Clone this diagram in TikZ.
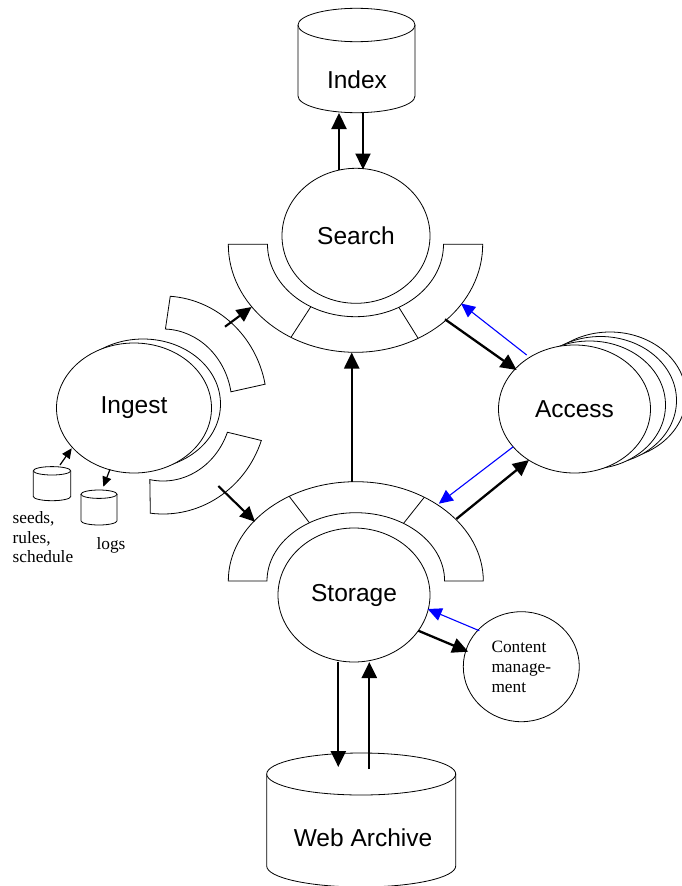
\documentclass[tikz,border=0pt]{standalone}
\usepackage{fontspec}
\setmainfont{Liberation Sans}
\newfontfamily\notefont{Liberation Serif}
\usetikzlibrary{shapes.geometric,arrows.meta}
\begin{document}
\begin{tikzpicture}[x=1pt,y=-1pt,
  shapeline/.style={draw=black,line width=0.8pt,fill=white},
  bignode/.style={shapeline,ellipse,inner sep=0pt,minimum width=152pt,minimum height=134pt,font=\fontsize{24.5}{29}\selectfont},
  lbl/.style={inner sep=0pt,font=\fontsize{24.5}{29}\selectfont},
  note/.style={inner sep=0pt,align=left,font=\notefont\fontsize{17.3}{19.5}\selectfont},
  flowarrow/.style={draw=black,line width=2.3pt,-{Triangle[length=16pt,width=15pt]}},
  backarrow/.style={draw=blue,line width=1.1pt,-{Triangle[length=14pt,width=13pt]}},
  smallarrow/.style={draw=black,line width=1.2pt,-{Triangle[length=10pt,width=9pt]}}]
\clip (0,0) rectangle (682,886);

% ---------- Search band (lower half ring) ----------
\draw[shapeline] (228.3,244.3) arc[start angle=180,end angle=0,x radius=127.2,y radius=108]
  -- (443.5,244.3) arc[start angle=0,end angle=180,x radius=88,y radius=72.4] -- cycle;
\draw[line width=0.8pt] ([shift={(355.5,244.3)}]120.5:88 and 72.4) -- ([shift={(355.5,244.3)}]120.5:127.2 and 108);
\draw[line width=0.8pt] ([shift={(355.5,244.3)}]60.5:88 and 72.4) -- ([shift={(355.5,244.3)}]60.5:127.2 and 108);

% ---------- Storage band (upper half ring) ----------
\draw[shapeline] (228.3,581) arc[start angle=180,end angle=360,x radius=127.5,y radius=99.3]
  -- (444.6,581) arc[start angle=0,end angle=-180,x radius=88.8,y radius=68.3] -- cycle;
\draw[line width=0.8pt] ([shift={(355.8,581)}]238.5:88.8 and 68.3) -- ([shift={(355.8,581)}]238.5:127.5 and 99.3);
\draw[line width=0.8pt] ([shift={(355.8,581)}]302.5:88.8 and 68.3) -- ([shift={(355.8,581)}]302.5:127.5 and 99.3);

% ---------- Ingest bands ----------
\draw[shapeline] ([shift={(163,405)}]-86:104 and 109) arc[start angle=-86,end angle=-11,x radius=104,y radius=109]
  -- ([shift={(163,405)}]-10:69 and 76) arc[start angle=-10,end angle=-88,x radius=69,y radius=76] -- cycle;
\draw[shapeline] ([shift={(163,405)}]19:104 and 109) arc[start angle=19,end angle=97,x radius=104,y radius=109]
  -- ([shift={(163,405)}]101:69 and 76) arc[start angle=101,end angle=21,x radius=69,y radius=76] -- cycle;

% ---------- main nodes ----------
\node[bignode,minimum width=155pt,minimum height=130pt] (ingestback) at (143,404) {};
\node[bignode,minimum width=155pt,minimum height=130pt] (ingest) at (134,408) {Ingest};

\node[bignode,minimum height=128pt] (access3) at (610,396) {};
\node[bignode,minimum height=128pt] (access2) at (600.5,400.5) {};
\node[bignode,minimum height=128pt] (access1) at (589.5,405) {};
\node[bignode,minimum height=128pt] (access) at (574.5,409) {Access};

\node[bignode,minimum width=148pt,minimum height=135pt] (search) at (356,235.8) {Search};
\node[bignode,minimum width=152pt,minimum height=134pt] (storage) at (354,595) {Storage};

\node[shapeline,ellipse,inner sep=0pt,minimum width=116pt,minimum height=110pt,align=left,
      font=\notefont\fontsize{17.3}{20.2}\selectfont] (content) at (521.3,666.7) {Content\\manage-\\ment};

% ---------- cylinders ----------
% Index
\draw[shapeline] (298,25) -- (298,96) arc[start angle=180,end angle=0,x radius=58.5,y radius=16.7] -- (415,25);
\draw[shapeline] (356.5,25) ellipse[x radius=58.5,y radius=16.7];
\node[lbl] (index) at (357,80) {Index};
% Web Archive
\draw[shapeline] (266.7,774) -- (266.7,866) arc[start angle=180,end angle=0,x radius=94.5,y radius=21] -- (455.7,774);
\draw[shapeline] (361.2,774) ellipse[x radius=94.5,y radius=21];
\node[lbl] (archive) at (363,838) {Web Archive};
% seeds cylinder
\draw[shapeline] (33.3,470.8) -- (33.3,496.5) arc[start angle=180,end angle=0,x radius=18.7,y radius=4.2] -- (70.7,470.8);
\draw[shapeline] (52,470.8) ellipse[x radius=18.7,y radius=4.2];
\coordinate (seeds) at (60,465);
% logs cylinder
\draw[shapeline] (81,494.2) -- (81,520.8) arc[start angle=180,end angle=0,x radius=18,y radius=4.2] -- (117,494.2);
\draw[shapeline] (99,494.2) ellipse[x radius=18,y radius=4.2];
\coordinate (logs) at (103.3,486.7);

\node[note,anchor=west] (seedslbl) at (12.5,537.5) {seeds,\\rules,\\schedule};
\node[note] (logslbl) at (111,545) {logs};

% ---------- connector end points ----------
\coordinate (searchTopL) at (339,169.5);
\coordinate (searchTopR) at (363,169.5);
\coordinate (indexBotL) at (339,113);
\coordinate (indexBotR) at (363,113);
\coordinate (ingUpOut) at (225,326.7);
\coordinate (searchBandL) at (251.7,307);
\coordinate (ingLoOut) at (218.3,486);
\coordinate (storBandL) at (255,521.7);
\coordinate (storBandTop) at (351.7,481.7);
\coordinate (searchBandBot) at (351.7,352.5);
\coordinate (searchBandR) at (445,319.3);
\coordinate (accessTL) at (516.7,370);
\coordinate (accessTop) at (526.7,355);
\coordinate (searchBandRtip) at (461,303.5);
\coordinate (accessBL) at (513.3,446.7);
\coordinate (storBandRtip) at (438.8,503.7);
\coordinate (storBandR) at (456.3,519);
\coordinate (accessBot) at (529,460);
\coordinate (storBotL) at (338.3,661.5);
\coordinate (archTopL) at (338.3,767);
\coordinate (archTopR) at (369.3,769);
\coordinate (storBotR) at (369.3,662);
\coordinate (storRight) at (418.3,630.7);
\coordinate (contentL) at (468.3,651.7);
\coordinate (contentTL) at (479.3,630.7);
\coordinate (storRtip) at (427.7,609);
\coordinate (ingestBL) at (71.7,448.3);
\coordinate (ingestB) at (110,469.3);

% ---------- connectors ----------
\draw[flowarrow] (searchTopL) -- (indexBotL);
\draw[flowarrow] (indexBotR) -- (searchTopR);
\draw[flowarrow,line width=2.1pt,-{Triangle[length=15pt,width=14pt]}] (ingUpOut) -- (searchBandL);
\draw[flowarrow,line width=2.1pt,-{Triangle[length=15pt,width=14pt]}] (ingLoOut) -- (storBandL);
\draw[flowarrow] (storBandTop) -- (searchBandBot);
\draw[flowarrow] (searchBandR) -- (accessTL);
\draw[backarrow] (accessTop) -- (searchBandRtip);
\draw[backarrow] (accessBL) -- (storBandRtip);
\draw[flowarrow] (storBandR) -- (accessBot);
\draw[flowarrow] (storBotL) -- (archTopL);
\draw[flowarrow] (archTopR) -- (storBotR);
\draw[flowarrow] (storRight) -- (contentL);
\draw[backarrow] (contentTL) -- (storRtip);
\draw[smallarrow] (seeds) -- (ingestBL);
\draw[smallarrow] (ingestB) -- (logs);
\end{tikzpicture}
\end{document}
